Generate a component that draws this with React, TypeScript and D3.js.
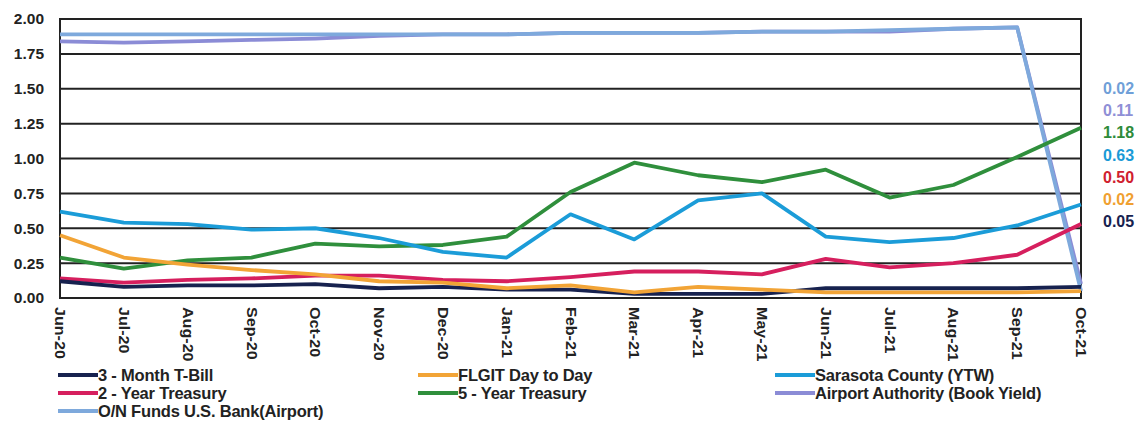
import * as d3 from "d3";

const months = [
  "Jun-20", "Jul-20", "Aug-20", "Sep-20", "Oct-20", "Nov-20", "Dec-20", "Jan-21", "Feb-21",
  "Mar-21", "Apr-21", "May-21", "Jun-21", "Jul-21", "Aug-21", "Sep-21", "Oct-21",
];

const tBill3m = [0.12, 0.08, 0.09, 0.09, 0.10, 0.07, 0.08, 0.06, 0.06, 0.03, 0.03, 0.03, 0.07, 0.07, 0.07, 0.07, 0.08];
const treasury2y = [0.14, 0.11, 0.13, 0.14, 0.16, 0.16, 0.13, 0.12, 0.15, 0.19, 0.19, 0.17, 0.28, 0.22, 0.25, 0.31, 0.53];
const onFunds = [1.89, 1.89, 1.89, 1.89, 1.89, 1.89, 1.89, 1.89, 1.90, 1.90, 1.90, 1.91, 1.91, 1.92, 1.93, 1.94, 0.05];
const flgit = [0.45, 0.29, 0.24, 0.20, 0.17, 0.12, 0.11, 0.07, 0.09, 0.04, 0.08, 0.06, 0.04, 0.04, 0.04, 0.04, 0.05];
const treasury5y = [0.29, 0.21, 0.27, 0.29, 0.39, 0.37, 0.38, 0.44, 0.76, 0.97, 0.88, 0.83, 0.92, 0.72, 0.81, 1.01, 1.22];
const sarasota = [0.62, 0.54, 0.53, 0.49, 0.50, 0.43, 0.33, 0.29, 0.60, 0.42, 0.70, 0.75, 0.44, 0.40, 0.43, 0.52, 0.67];
const airport = [1.84, 1.83, 1.84, 1.85, 1.86, 1.88, 1.89, 1.89, 1.90, 1.90, 1.90, 1.91, 1.91, 1.91, 1.93, 1.94, 0.10];

const yTicks = [0, 0.25, 0.5, 0.75, 1, 1.25, 1.5, 1.75, 2];
const endLabels = ["0.02", "0.11", "1.18", "0.63", "0.50", "0.02", "0.05"];

// col/row = legend slot
const series = [
  { name: "3 - Month T-Bill", values: tBill3m, color: "#17224f", col: 0, row: 0 },
  { name: "2 - Year Treasury", values: treasury2y, color: "#d61f5e", col: 0, row: 1 },
  { name: "O/N Funds U.S. Bank(Airport)", values: onFunds, color: "#7ea9dc", col: 0, row: 2 },
  { name: "FLGIT Day to Day", values: flgit, color: "#f2a436", col: 1, row: 0 },
  { name: "5 - Year Treasury", values: treasury5y, color: "#2f8f3c", col: 1, row: 1 },
  { name: "Sarasota County (YTW)", values: sarasota, color: "#1b9cd8", col: 2, row: 0 },
  { name: "Airport Authority (Book Yield)", values: airport, color: "#8b8cd6", col: 2, row: 1 },
];

const labelColors = ["#6f9fd8", "#8f8fd6", "#2e8b3a", "#1a9ad6", "#d0202e", "#f0a030", "#17224f"];

const W = 1142;
const H = 422;
const left = 60;
const right = 1081;
const top = 19;
const bottom = 298;

export default function App() {
  const x = d3.scalePoint<string>().domain(months).range([left, right]);
  const y = d3.scaleLinear().domain([0, 2]).range([bottom, top]);
  const line = d3
    .line<number>()
    .x((_, i) => x(months[i]) as number)
    .y((d) => y(d));

  // back lines first so the low ones sit on top like the original
  const drawOrder = [6, 2, 4, 5, 1, 0, 3];

  const legendCols = [58, 418, 775];
  const legendRows = [375, 393, 411];

  return (
    <svg width={W} height={H} style={{ position: "absolute", left: 0, top: 0, background: "#fff" }}
      fontFamily="'Liberation Sans', Arial, sans-serif" fontWeight="bold">
      {yTicks.map((t) => (
        <g key={t}>
          <line x1={left} x2={right} y1={y(t)} y2={y(t)} stroke="#222" strokeWidth={2} />
          <text x={44} y={y(t)} dy="0.35em" textAnchor="end" fontSize={15.5} fill="#222">
            {t.toFixed(2)}
          </text>
        </g>
      ))}
      <rect x={left} y={top} width={right - left} height={bottom - top} fill="none" stroke="#222" strokeWidth={2} />
      {drawOrder.map((k) => (
        <path key={k} d={line(series[k].values) as string} fill="none" stroke={series[k].color}
          strokeWidth={3.8} strokeLinejoin="round" />
      ))}
      {months.map((m) => (
        <text key={m} transform={`translate(${x(m)},${bottom + 9}) rotate(90) scale(1.15,1)`} dy="0.35em"
          fontSize={14} fill="#222">
          {m}
        </text>
      ))}
      {endLabels.map((l, i) => (
        <text key={i} x={1103} y={88 + i * 22.3} dy="0.35em" fontSize={16} fill={labelColors[i]}>
          {l}
        </text>
      ))}
      {series.map((s) => {
        const cx = legendCols[s.col];
        const cy = legendRows[s.row];
        return (
          <g key={s.name}>
            <line x1={cx} x2={cx + 40} y1={cy} y2={cy} stroke={s.color} strokeWidth={4} />
            <text x={cx + 40} y={cy} dy="0.35em" fontSize={16.5} fill="#222" letterSpacing={-0.2}>
              {s.name}
            </text>
          </g>
        );
      })}
    </svg>
  );
}
